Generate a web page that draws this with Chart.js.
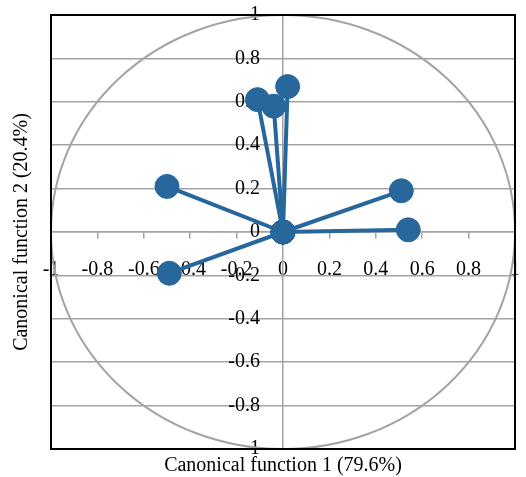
<!DOCTYPE html>
<html>
<head>
<meta charset="utf-8">
<script src="https://cdn.jsdelivr.net/npm/chart.js@4/dist/chart.umd.min.js"></script>
<style>
  html, body { margin: 0; padding: 0; background: #fff; overflow: hidden; }
  #clip { position: relative; width: 526px; height: 477px; overflow: hidden; }
  #chart { position: absolute; left: 0; top: 0; }
</style>
</head>
<body>
<div id="clip"><canvas id="chart" width="540" height="477"></canvas></div>
<script>
// canonical loadings (function 1, function 2)
const loadX = [-0.50, -0.49, 0.51, 0.54, -0.11, -0.04, 0.02];
const loadY = [0.21, -0.19, 0.19, 0.01, 0.61, 0.58, 0.67];
const tickValues = [-1, -0.8, -0.6, -0.4, -0.2, 0, 0.2, 0.4, 0.6, 0.8, 1];
const xTitle = "Canonical function 1 (79.6%)";
const yTitle = "Canonical function 2 (20.4%)";

const blue = "#27679b";
const gray = "#a3a3a3";
const serif = "'Liberation Serif', 'Times New Roman', serif";
const font = { family: serif, size: 20 };
const fmt = v => String(Math.round(v * 10) / 10);

const datasets = loadX.map((x, i) => ({
  data: [{ x: 0, y: 0 }, { x: x, y: loadY[i] }],
  showLine: true,
  borderColor: blue,
  backgroundColor: blue,
  borderWidth: 4,
  pointRadius: 12,
  pointHoverRadius: 12,
  pointBorderWidth: 1
}));

// unit circle + black frame, drawn through the scales
const circlePlugin = {
  id: "circle",
  beforeDraw(chart) {
    // y labels sit left of the vertical axis with a gap
    chart.scales.y.getLabelItems().forEach(it => {
      if (!it._shifted) { it.options.translation[0] -= 23; it._shifted = true; }
    });
  },
  beforeDatasetsDraw(chart) {
    const { ctx, chartArea, scales: { x, y } } = chart;
    const cx = x.getPixelForValue(0), cy = y.getPixelForValue(0);
    const rx = x.getPixelForValue(1) - cx, ry = cy - y.getPixelForValue(1);
    ctx.save();
    ctx.strokeStyle = gray;
    ctx.lineWidth = 2;
    ctx.beginPath();
    ctx.ellipse(cx, cy, rx, ry, 0, 0, Math.PI * 2);
    ctx.stroke();
    ctx.strokeStyle = "#000";
    ctx.lineWidth = 2;
    ctx.strokeRect(chartArea.left, chartArea.top, chartArea.width, chartArea.height);
    ctx.restore();
  },
  afterDraw(chart) {
    const { ctx, chartArea, scales: { x, y } } = chart;
    ctx.save();
    ctx.fillStyle = "#000";
    ctx.font = "20px " + serif;
    ctx.textAlign = "center";
    ctx.textBaseline = "middle";
    ctx.fillText(xTitle, x.getPixelForValue(0), chartArea.bottom + 17);
    ctx.translate(22, y.getPixelForValue(0));
    ctx.rotate(-Math.PI / 2);
    ctx.fillText(yTitle, 0, 0);
    ctx.restore();
  }
};

new Chart(document.getElementById("chart"), {
  type: "scatter",
  data: { datasets },
  options: {
    responsive: false,
    animation: false,
    layout: { autoPadding: false, padding: { left: 51, top: 13, right: 10, bottom: 28 } },
    plugins: { legend: { display: false }, tooltip: { enabled: false } },
    scales: {
      x: {
        type: "linear",
        min: -1, max: 1,
        position: { y: 0 },
        afterBuildTicks: s => { s.ticks = tickValues.map(v => ({ value: v })); },
        afterFit: s => { s.height = 0; },
        ticks: { color: "#000", font, padding: 20, maxRotation: 0, autoSkip: false, callback: fmt },
        grid: { drawOnChartArea: false, drawTicks: true, tickLength: 6, color: gray, lineWidth: 1.5 },
        border: { color: gray, width: 1.5 }
      },
      y: {
        type: "linear",
        min: -1, max: 1,
        position: { x: 0 },
        afterBuildTicks: s => { s.ticks = tickValues.map(v => ({ value: v })); },
        afterFit: s => { s.width = 0; },
        ticks: { color: "#000", font, autoSkip: false, callback: fmt },
        grid: { drawTicks: false, color: gray, lineWidth: 1.5 },
        border: { color: gray, width: 1.5 }
      }
    }
  },
  plugins: [circlePlugin]
});
</script>
</body>
</html>
